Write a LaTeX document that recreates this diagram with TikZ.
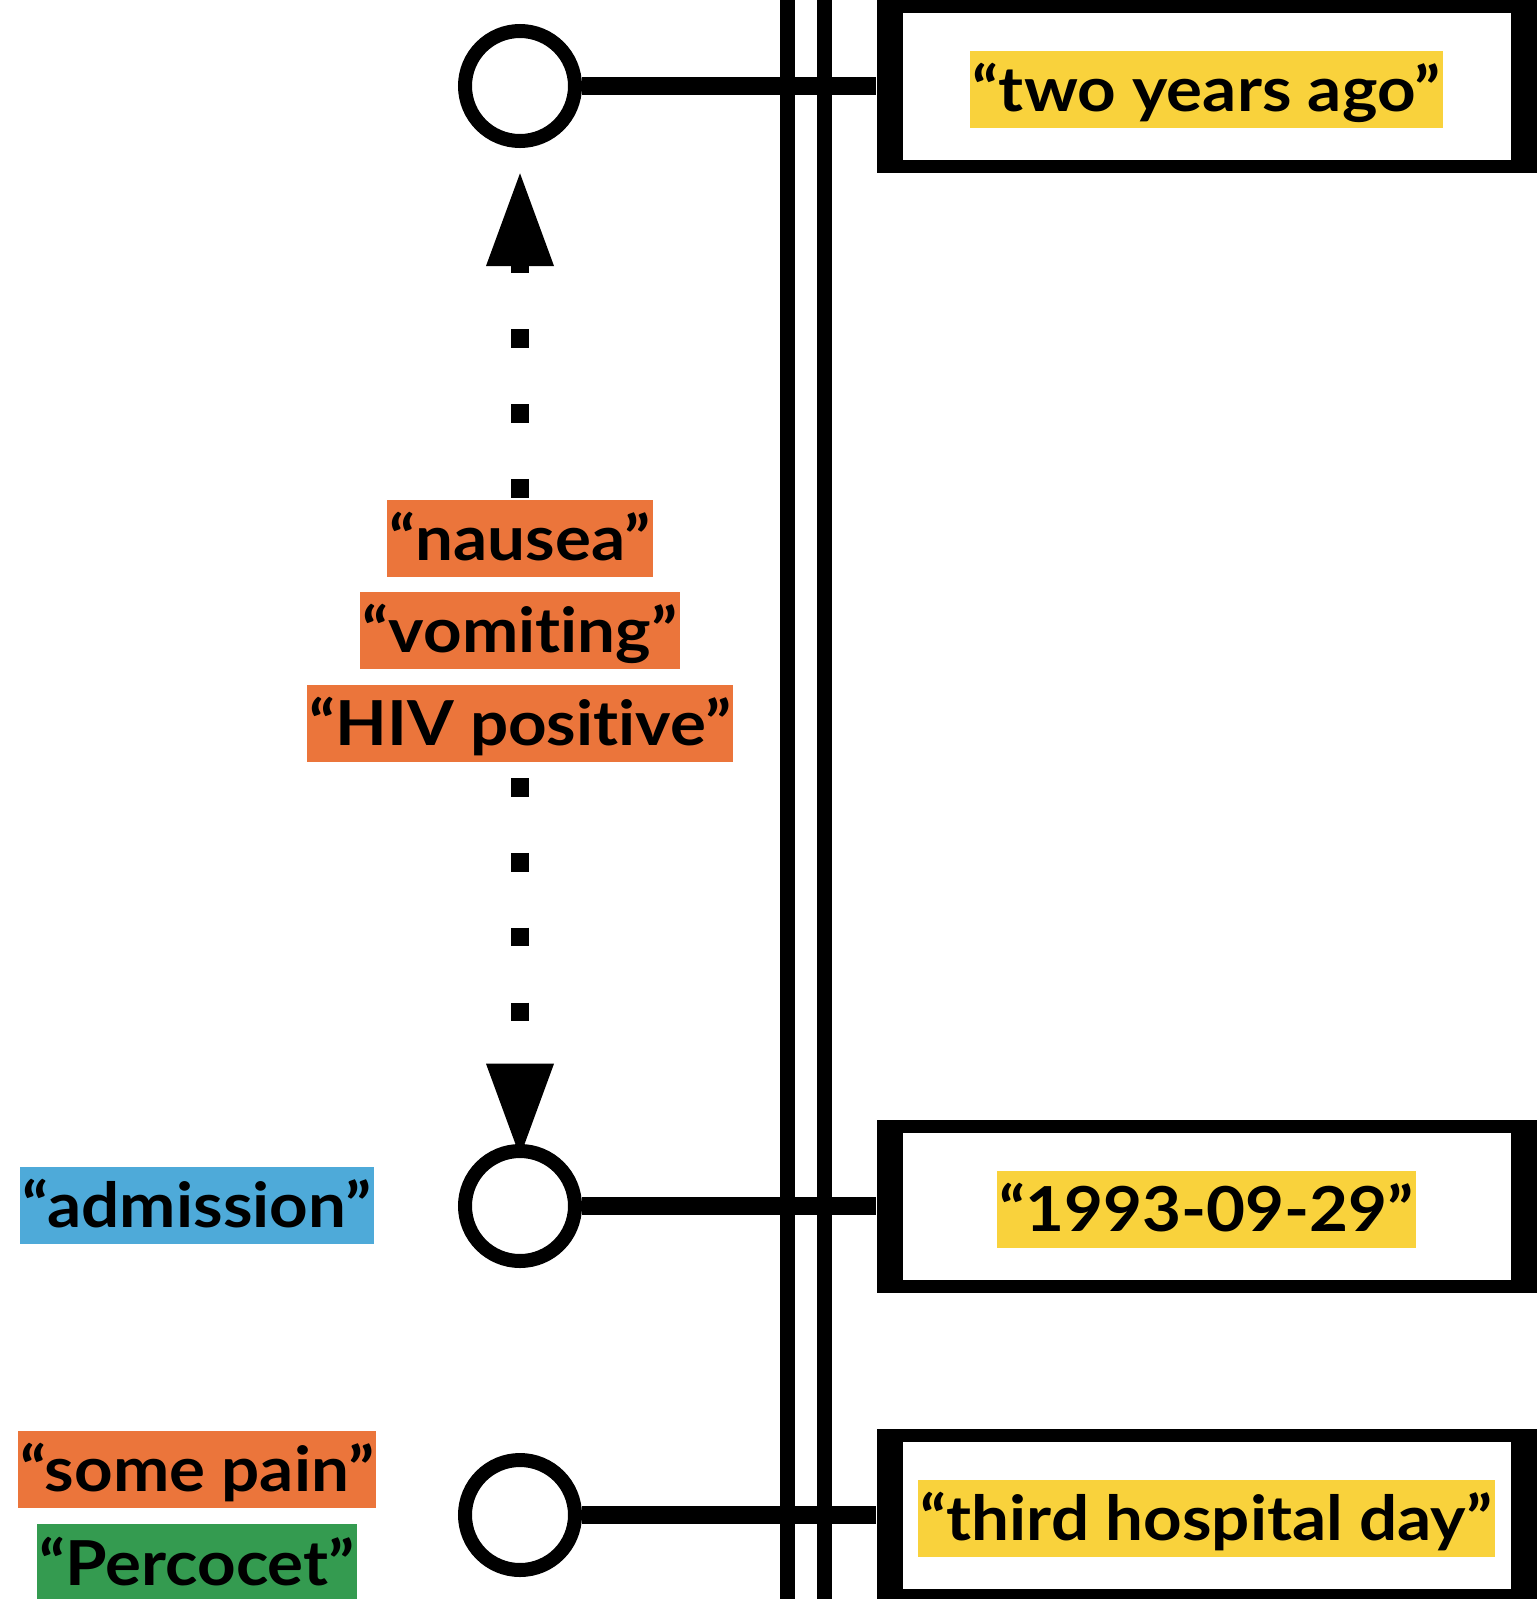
\documentclass[tikz,border=0pt]{standalone}
\usepackage{fontspec}
\setmainfont{Lato}[Ligatures=NoCommon,FakeStretch=1.085]
\usetikzlibrary{arrows.meta,calc,positioning}
\pgfdeclarelayer{background}
\pgfsetlayers{background,main}
\definecolor{hlyellow}{HTML}{F9D23C}
\definecolor{hlorange}{HTML}{EB753B}
\definecolor{hlblue}{HTML}{4EAAD9}
\definecolor{hlgreen}{HTML}{349B50}

\begin{document}
\begin{tikzpicture}[x=1pt,y=-1pt,
  event/.style={circle,draw,fill=white,line width=14pt,minimum size=110pt,inner sep=0pt},
  link/.style={line width=18.5pt},
  tline/.style={line width=15pt},
  tframe/.style={fill=black,minimum width=660pt,minimum height=173pt,inner sep=0pt},
  tinner/.style={fill=white,minimum width=608pt,minimum height=147pt,inner sep=0pt},
  tag/.style={inner xsep=2.5pt,inner ysep=0pt,text height=60.7pt,text depth=16.3pt,
    font=\fontsize{62}{64}\selectfont\bfseries},
  evarrow/.style={line width=18.7pt,dash pattern=on 18.7pt off 56.1pt,dash phase=11.5pt,
    {Triangle[length=92.7pt,width=68pt,line width=0pt]}-{Triangle[length=92.7pt,width=68pt,line width=0pt]}}]
  \useasboundingbox (0,0) rectangle (1538,1599);

  % ejes de tiempo
  \coordinate (ax1t) at (787.5,-5);
  \coordinate (ax1b) at (787.5,1605);
  \coordinate (ax2t) at (824.5,-5);
  \coordinate (ax2b) at (824.5,1605);
  \draw[tline] (ax1t) -- (ax1b);
  \draw[tline] (ax2t) -- (ax2b);

  % eventos
  \node[event] (ev1) at (520,86) {};
  \node[event] (ev2) at (520,1206) {};
  \node[event] (ev3) at (520,1515) {};

  % expresiones temporales
  \node[tframe] (t1) at (1206.5,86) {};
  \node[tinner] at (t1) {};
  \node[tag,fill=hlyellow,yshift=-3pt] (d1) at (t1) {“two years ago”};
  \node[tframe] (t2) at (1206.5,1206) {};
  \node[tinner] at (t2) {};
  \node[tag,fill=hlyellow,yshift=-3pt] (d2) at (t2) {“1993-09-29”};
  \node[tframe] (t3) at (1206.5,1515) {};
  \node[tinner] at (t3) {};
  \node[tag,fill=hlyellow,yshift=-3pt] (d3) at (t3) {“third hospital day”};

  \draw[link] (ev1) -- (t1);
  \draw[link] (ev2) -- (t2);
  \draw[link] (ev3) -- (t3);

  % relacion entre eventos
  \begin{pgfonlayer}{background}
    \draw[evarrow,shorten <=25.3pt,shorten >=-12.4pt] (ev1) -- (ev2);
  \end{pgfonlayer}
  \node[tag,fill=hlorange] (naus) at (520,538.3) {“nausea”};
  \node[tag,fill=hlorange,below=15pt of naus] (vom) {“vomiting”};
  \node[tag,fill=hlorange,below=15pt of vom] (hiv) {“HIV positive”};

  % etiquetas de los eventos
  \node[tag,fill=hlblue] (adm) at (197,1205.3) {“admission”};
  \node[tag,fill=hlorange] (pain) at (197,1469) {“some pain”};
  \node[tag,fill=hlgreen,below=16.5pt of pain] (perc) {“Percocet”};
\end{tikzpicture}
\end{document}
